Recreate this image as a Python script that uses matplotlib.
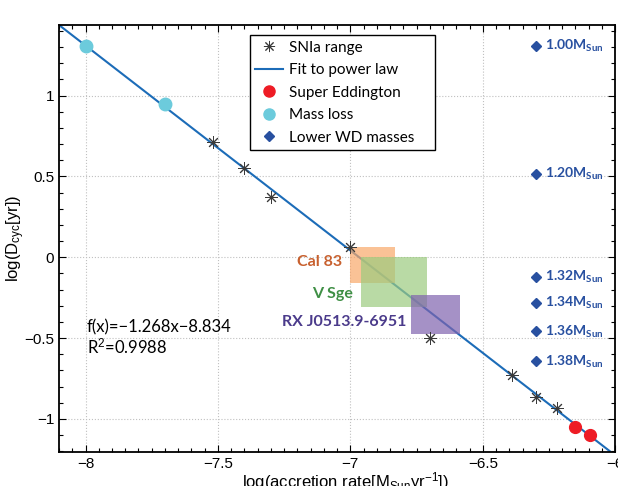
import matplotlib
matplotlib.use("Agg")
import matplotlib.pyplot as plt
from matplotlib.patches import Rectangle
from matplotlib.lines import Line2D
import numpy as np

# data
snia_x = [-7.52, -7.40, -7.30, -7.00, -6.70, -6.39, -6.30, -6.22]
snia_y = [0.71, 0.555, 0.37, 0.066, -0.497, -0.726, -0.862, -0.93]
massloss_x = [-8.0, -7.70]
massloss_y = [1.306, 0.945]
edd_x = [-6.15, -6.094]
edd_y = [-1.052, -1.101]
wd_x = [-6.30] * 6
wd_y = [1.307, 0.515, -0.123, -0.284, -0.459, -0.644]
wd_labels = ['1.00', '1.20', '1.32', '1.34', '1.36', '1.38']
fit_slope, fit_icpt = -1.268, -8.834

# observed systems: name, x range, y range
sys_names = ['Cal 83', 'V Sge', 'RX J0513.9-6951']
sys_x = [(-7.0, -6.83), (-6.96, -6.71), (-6.77, -6.585)]
sys_y = [(-0.16, 0.066), (-0.31, 0.0), (-0.477, -0.232)]
sys_fill = ['#f9a86a', '#9ccb7f', '#7f63ae']
sys_text = ['#c8602e', '#3f8f45', '#4b3b8b']
sys_label_xy = [(-7.03, -0.03), (-6.99, -0.23), (-6.79, -0.40)]

plt.rcParams['mathtext.fontset'] = 'custom'
plt.rcParams['mathtext.rm'] = 'Liberation Sans'
plt.rcParams['mathtext.it'] = 'Liberation Sans:italic'
plt.rcParams['mathtext.bf'] = 'Lato:bold'

fig = plt.figure(figsize=(6.18, 4.86), dpi=100)
ax = fig.add_axes([0.0955, 0.070, 0.900, 0.8786])

xlim = (-8.1, -6.0)
ylim = (-1.205, 1.437)

# fit line
xf = np.array(xlim)
ax.plot(xf, fit_slope * xf + fit_icpt, color='#1c6cb8', linewidth=1.5, zorder=2)

# boxes for observed systems
for (x0, x1), (y0, y1), fc in zip(sys_x, sys_y, sys_fill):
    ax.add_patch(Rectangle((x0, y0), x1 - x0, y1 - y0, facecolor=fc,
                           edgecolor='none', alpha=0.7, zorder=3))
for name, (tx, ty), c in zip(sys_names, sys_label_xy, sys_text):
    ax.text(tx, ty, name, color=c, fontsize=11.5, fontweight='bold',
            family='Lato', ha='right', va='center', zorder=5)

ax.plot(snia_x, snia_y, linestyle='none', marker=(8, 2, 0), markersize=9,
        markeredgewidth=0.7, color='#3a3a3a', zorder=4)
ax.plot(massloss_x, massloss_y, 'o', color='#6ccbdc', markersize=9, zorder=4)
ax.plot(edd_x, edd_y, 'o', color='#ee1c25', markersize=8.5, zorder=4)
ax.plot(wd_x, wd_y, 'D', color='#2850a0', markersize=5.5, zorder=4)
for x, y, lab in zip(wd_x, wd_y, wd_labels):
    ax.text(x + 0.035, y, lab + r'M$_{\mathbf{Sun}}$', color='#2850a0',
            fontsize=10, fontweight='bold', family='Lato', va='center')

ax.text(-7.995, -0.435, 'f(x)=\u22121.268x\u22128.834', fontsize=12,
        family='Lato', va='center')
ax.text(-7.995, -0.553, r'R$^2$=0.9988', fontsize=12, family='Lato', va='center')

ax.set_xlim(xlim)
ax.set_ylim(ylim)
ax.set_xticks([-8, -7.5, -7, -6.5, -6])
ax.set_xticklabels(['\u22128', '\u22127.5', '\u22127', '\u22126.5', '\u22126'])
ax.set_yticks([-1, -0.5, 0, 0.5, 1])
ax.set_yticklabels(['\u22121', '\u22120.5', '0', '0.5', '1'])
ax.set_xticks(np.arange(-8.1, -5.99, 0.05), minor=True)
ax.set_yticks(np.arange(-1.2, 1.45, 0.1), minor=True)
ax.tick_params(which='both', direction='in', top=True, right=True,
               labelsize=11, width=0.8)
ax.tick_params(which='major', length=5)
ax.tick_params(which='minor', length=3)
for lbl in ax.get_xticklabels() + ax.get_yticklabels():
    lbl.set_family('Liberation Sans')
for s in ax.spines.values():
    s.set_linewidth(1.3)
ax.grid(True, which='major', linestyle=':', color='#c0c0c0', linewidth=0.8)
ax.set_axisbelow(True)

ax.set_xlabel(r'log(accretion rate[M$_{\mathrm{Sun}}$yr$^{-1}$])',
              fontsize=12, family='Liberation Sans')
ax.xaxis.set_label_coords(0.515, -0.043)
ax.xaxis.label.set_va('top')
ax.set_ylabel(r'log(D$_{\mathrm{cyc}}$[yr])', fontsize=12,
              family='Liberation Sans')
ax.yaxis.set_label_coords(-0.058, 0.5)

handles = [
    Line2D([], [], linestyle='none', marker=(8, 2, 0), markersize=8,
           markeredgewidth=0.7, color='#3a3a3a'),
    Line2D([], [], color='#1c6cb8', linewidth=1.5),
    Line2D([], [], linestyle='none', marker='o', color='#ee1c25', markersize=8),
    Line2D([], [], linestyle='none', marker='o', color='#6ccbdc', markersize=8),
    Line2D([], [], linestyle='none', marker='D', color='#2850a0', markersize=5.5),
]
labels = ['SNIa range', 'Fit to power law', 'Super Eddington', 'Mass loss',
          'Lower WD masses    ']
leg = ax.legend(handles, labels, loc='upper left', bbox_to_anchor=(0.343, 0.976),
                borderaxespad=0, fancybox=False, edgecolor='black',
                framealpha=1, prop={'family': 'Lato', 'size': 11},
                handlelength=1.8, handletextpad=0.4, labelspacing=0.56,
                borderpad=0.35)
leg.get_frame().set_linewidth(1.0)
leg.set_zorder(10)

fig.savefig('out.png', dpi=100)
